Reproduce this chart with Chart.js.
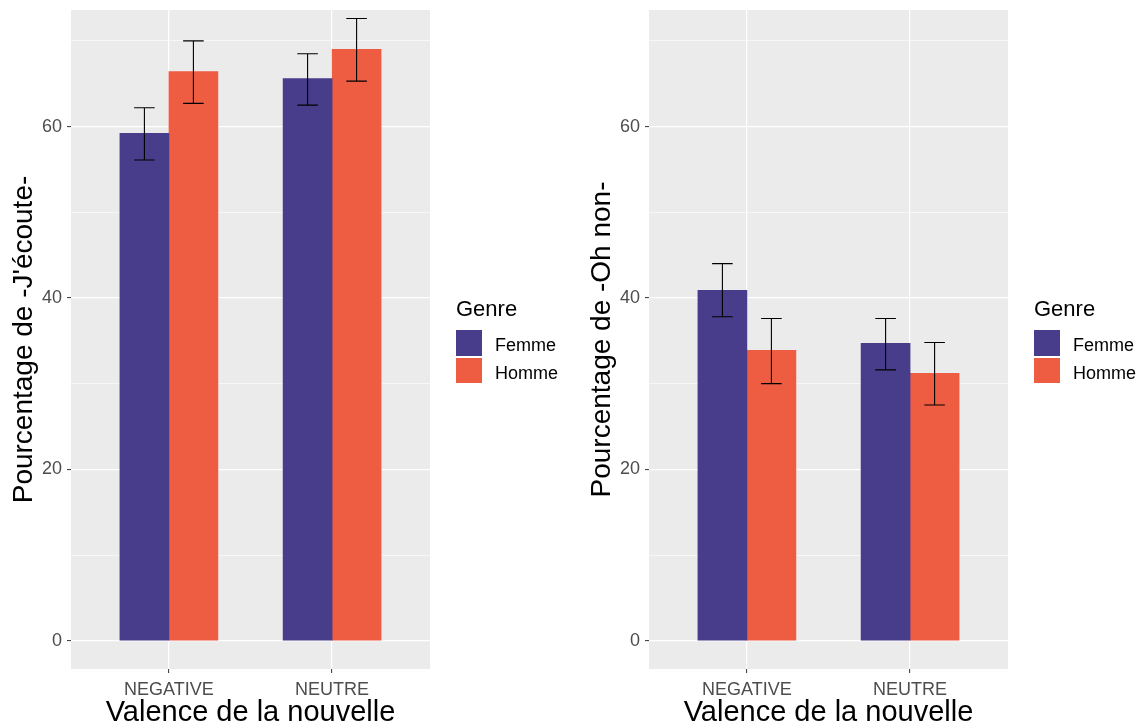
<!DOCTYPE html>
<html>
<head>
<meta charset="utf-8">
<script src="https://cdn.jsdelivr.net/npm/chart.js@4.4.1/dist/chart.umd.min.js"></script>
<style>
  body { margin: 0; background: #fff; width: 1143px; height: 728px; overflow: hidden; position: relative;
         font-family: "Liberation Sans", Arial, sans-serif; }
  .panel { position: absolute; top: 0; width: 572px; height: 728px; }
  .panel canvas { position: absolute; left: 0; top: 0; }
  .leg-title { position: absolute; left: 456px; top: 298px; font-size: 22px; line-height: 22px; color: #000; }
  .leg-key { position: absolute; left: 456px; width: 26px; }
  .leg-label { position: absolute; left: 495px; font-size: 18px; line-height: 18px; color: #000; }
</style>
</head>
<body>
<div class="panel" id="p1" style="left:0px"><canvas id="c1" width="572" height="728"></canvas></div>
<div class="panel" id="p2" style="left:578px"><canvas id="c2" width="565" height="728"></canvas></div>
<script>
'use strict';

const categories = ['NEGATIVE', 'NEUTRE'];
const genres = ['Femme', 'Homme'];
const colors = ['#483D8B', '#EE5C42'];

// Pourcentage de -J'écoute-
const ecouteFemme = [59.2, 65.6];
const ecouteFemmeLow = [56.1, 62.5];
const ecouteFemmeHigh = [62.2, 68.5];
const ecouteHomme = [66.4, 69.0];
const ecouteHommeLow = [62.7, 65.3];
const ecouteHommeHigh = [70.0, 72.6];

// Pourcentage de -Oh non-
const ohnonFemme = [40.9, 34.7];
const ohnonFemmeLow = [37.8, 31.6];
const ohnonFemmeHigh = [44.0, 37.6];
const ohnonHomme = [33.9, 31.2];
const ohnonHommeLow = [30.0, 27.5];
const ohnonHommeHigh = [37.6, 34.8];

const yTicks = [0, 10, 20, 30, 40, 50, 60, 70];
const yMin = -3.3;
const yMax = 73.6;

Chart.defaults.font.family = '"Liberation Sans", Arial, sans-serif';

// grey panel background
const panelBg = {
  id: 'panelBg',
  beforeDraw(chart) {
    const { ctx, chartArea: a } = chart;
    ctx.save();
    ctx.fillStyle = '#EBEBEB';
    ctx.fillRect(a.left, a.top, a.right - a.left, a.bottom - a.top);
    ctx.restore();
  },
};

// error bars from dataset.errLow / dataset.errHigh
const errorBars = {
  id: 'errorBars',
  afterDatasetsDraw(chart) {
    const { ctx } = chart;
    const y = chart.scales.y;
    ctx.save();
    ctx.strokeStyle = '#000';
    ctx.lineWidth = 1.1;
    chart.data.datasets.forEach((ds, d) => {
      const meta = chart.getDatasetMeta(d);
      meta.data.forEach((bar, i) => {
        const x = bar.x;
        const y1 = y.getPixelForValue(ds.errLow[i]);
        const y2 = y.getPixelForValue(ds.errHigh[i]);
        ctx.beginPath();
        ctx.moveTo(x, y1); ctx.lineTo(x, y2);
        ctx.moveTo(x - 10.3, y1); ctx.lineTo(x + 10.3, y1);
        ctx.moveTo(x - 10.3, y2); ctx.lineTo(x + 10.3, y2);
        ctx.stroke();
      });
    });
    ctx.restore();
  },
};

function points(values) {
  return values.map((v, i) => ({ x: i + 1, y: v }));
}

function makePanel(canvasId, panelId, yTitle, series) {
  const canvas = document.getElementById(canvasId);
  new Chart(canvas, {
    type: 'bar',
    data: {
      datasets: series.map((s, k) => ({
        label: genres[k],
        data: points(s.values),
        errLow: s.low,
        errHigh: s.high,
        backgroundColor: colors[k],
        borderWidth: 0,
        barThickness: 49,
      })),
    },
    options: {
      responsive: false,
      devicePixelRatio: 1,
      animation: false,
      events: [],
      layout: { padding: { left: 0, top: 10, right: canvas.width - 430, bottom: 0 } },
      plugins: { legend: { display: false }, tooltip: { enabled: false } },
      scales: {
        x: {
          type: 'linear',
          min: 0.4,
          max: 2.6,
          offset: false,
          afterBuildTicks: (scale) => { scale.ticks = categories.map((c, i) => ({ value: i + 1 })); },
          afterFit: (scale) => {
            scale.height = 59;
            scale.paddingLeft = 0;
            scale.paddingRight = 0;
          },
          ticks: {
            callback: (v) => categories[Math.round(v) - 1],
            color: '#4D4D4D',
            font: { size: 18 },
            padding: 6,
            maxRotation: 0,
            autoSkip: false,
          },
          grid: { offset: false, color: '#FFFFFF', lineWidth: 1.2, tickColor: '#333333', tickLength: 4, tickWidth: 1 },
          border: { display: false },
          title: {
            display: true,
            text: 'Valence de la nouvelle',
            color: '#000',
            font: { size: 29, lineHeight: 1 },
            padding: { top: 0, bottom: 1 },
          },
        },
        y: {
          min: yMin,
          max: yMax,
          afterBuildTicks: (scale) => { scale.ticks = yTicks.map((v) => ({ value: v })); },
          afterFit: (scale) => {
            scale.width = 71;
            scale.paddingTop = 0;
            scale.paddingBottom = 0;
          },
          ticks: {
            callback: (v) => (v % 20 === 0 ? String(v) : ''),
            color: '#4D4D4D',
            font: { size: 18 },
            padding: 5,
          },
          grid: {
            color: '#FFFFFF',
            lineWidth: (c) => (c.tick && c.tick.value % 20 === 0 ? 1.2 : 0.6),
            tickColor: (c) => (c.tick && c.tick.value % 20 === 0 ? '#333333' : 'rgba(0,0,0,0)'),
            tickLength: 4,
            tickWidth: 1,
          },
          border: { display: false },
          title: {
            display: true,
            text: yTitle,
            color: '#000',
            font: { size: 28, lineHeight: 1.2 },
            padding: { top: 7, bottom: 0 },
          },
        },
      },
    },
    plugins: [panelBg, errorBars],
  });

  // legend
  const panel = document.getElementById(panelId);
  const title = document.createElement('div');
  title.className = 'leg-title';
  title.textContent = 'Genre';
  panel.appendChild(title);
  const keyTops = [330, 358];
  const labelTops = [336, 364];
  genres.forEach((g, k) => {
    const key = document.createElement('div');
    key.className = 'leg-key';
    key.style.top = keyTops[k] + 'px';
    key.style.height = (k === 0 ? 26 : 25) + 'px';
    key.style.background = colors[k];
    panel.appendChild(key);
    const lab = document.createElement('div');
    lab.className = 'leg-label';
    lab.style.top = labelTops[k] + 'px';
    lab.textContent = g;
    panel.appendChild(lab);
  });
}

makePanel('c1', 'p1', "Pourcentage de -J'écoute-", [
  { values: ecouteFemme, low: ecouteFemmeLow, high: ecouteFemmeHigh },
  { values: ecouteHomme, low: ecouteHommeLow, high: ecouteHommeHigh },
]);

makePanel('c2', 'p2', 'Pourcentage de -Oh non-', [
  { values: ohnonFemme, low: ohnonFemmeLow, high: ohnonFemmeHigh },
  { values: ohnonHomme, low: ohnonHommeLow, high: ohnonHommeHigh },
]);
</script>
</body>
</html>
